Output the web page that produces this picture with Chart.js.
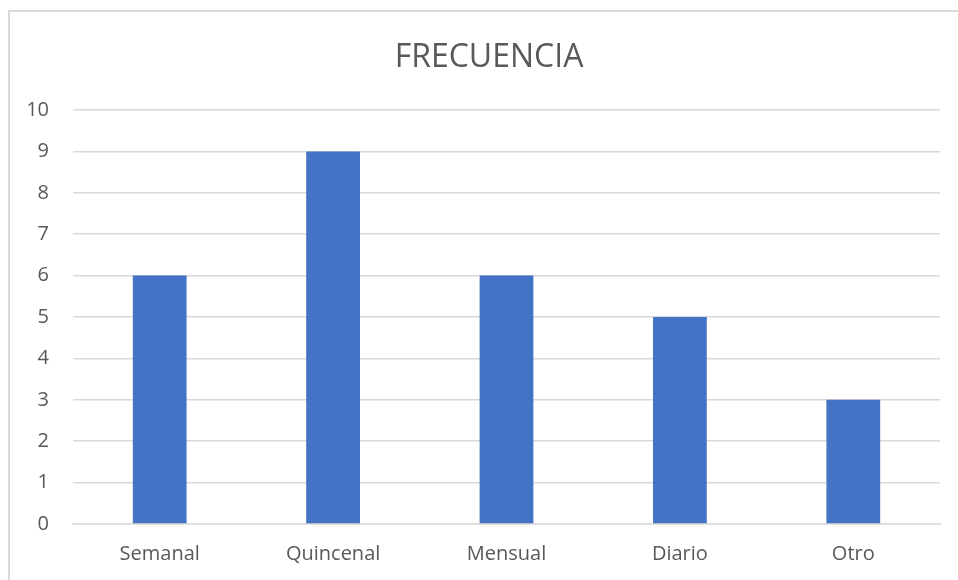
<!DOCTYPE html>
<html>
<head>
<meta charset="utf-8">
<script src="https://cdn.jsdelivr.net/npm/chart.js@4"></script>
<style>
  html, body { margin:0; padding:0; background:#fff; overflow:hidden; }
  #wrap { position:relative; width:958px; height:580px; }
  #frame { position:absolute; left:8px; top:10px; width:1000px; height:1000px; border:2px solid #d9d9d9; box-sizing:border-box; }
  canvas { position:absolute; left:0; top:0; }
</style>
</head>
<body>
<div id="wrap">
  <div id="frame"></div>
  <canvas id="chart" width="958" height="580"></canvas>
</div>
<script>
// Datos del gráfico
const categorias = ['Semanal', 'Quincenal', 'Mensual', 'Diario', 'Otro'];
const valores = [6, 9, 6, 5, 3];
const titulo = 'FRECUENCIA';

const fuente = "'Open Sans', 'Liberation Sans', sans-serif";
const gris = '#595959';

new Chart(document.getElementById('chart').getContext('2d'), {
  type: 'bar',
  data: {
    labels: categorias,
    datasets: [{
      data: valores,
      backgroundColor: '#4472c4',
      categoryPercentage: 1,
      barPercentage: 0.31
    }]
  },
  options: {
    responsive: false,
    animation: false,
    layout: { padding: { top: 39, right: 0, bottom: 0, left: 20 } },
    plugins: {
      legend: { display: false },
      tooltip: { enabled: false },
      title: {
        display: true,
        text: titulo,
        color: gris,
        font: { family: fuente, size: 32, weight: 'normal' },
        padding: { top: 0, bottom: 32.6 }
      }
    },
    scales: {
      y: {
        min: 0, max: 10,
        ticks: { stepSize: 1, color: gris, font: { family: fuente, size: 20 }, padding: 24 },
        grid: { color: '#d9d9d9', lineWidth: 1.5, drawTicks: false },
        border: { display: false },
        afterFit: s => { s.width = 53; }
      },
      // eje vacío a la derecha: deja el margen sin descentrar el título
      yDer: {
        position: 'right',
        ticks: { display: false },
        grid: { display: false, drawTicks: false },
        border: { display: false },
        afterFit: s => { s.width = 18; }
      },
      x: {
        ticks: { color: gris, font: { family: fuente, size: 20 }, padding: 18 },
        grid: { display: false, drawTicks: false },
        border: { color: '#d9d9d9', width: 1.5 },
        afterFit: s => { s.height = 56; }
      }
    }
  }
});
</script>
</body>
</html>
